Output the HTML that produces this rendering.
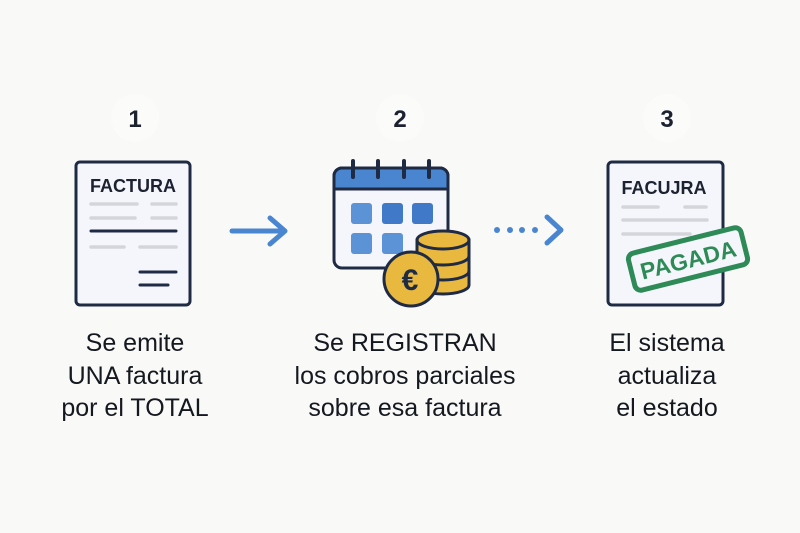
<!DOCTYPE html>
<html><head><meta charset="utf-8"><style>
html,body{margin:0;padding:0;background:#f9f9f7;}
svg{display:block;}
text{font-family:"Liberation Sans",sans-serif;}
</style></head><body>
<svg width="800" height="533" viewBox="0 0 800 533" xmlns="http://www.w3.org/2000/svg">
<rect width="800" height="533" fill="#f9f9f7"/>
<circle cx="135" cy="118" r="24" fill="#fbfbfa"/>
<circle cx="400" cy="118" r="24" fill="#fbfbfa"/>
<circle cx="667" cy="118" r="24" fill="#fbfbfa"/>
<g font-size="24" font-weight="bold" fill="#1c2230" text-anchor="middle">
<text x="135" y="127">1</text><text x="400" y="127">2</text><text x="667" y="127">3</text>
</g>
<rect x="76" y="162" width="114" height="143" rx="4" fill="#f5f6fb" stroke="#1f2a44" stroke-width="3"/>
<text x="133" y="192" font-size="18" font-weight="bold" fill="#1c2230" text-anchor="middle">FACTURA</text>
<g stroke-linecap="round" stroke-width="3.5">
<line x1="91" y1="204" x2="137" y2="204" stroke="#d3d5da"/><line x1="152" y1="204" x2="176" y2="204" stroke="#d3d5da"/>
<line x1="91" y1="218" x2="135" y2="218" stroke="#d3d5da"/><line x1="152" y1="218" x2="176" y2="218" stroke="#d3d5da"/>
<line x1="91" y1="231" x2="176" y2="231" stroke="#1f2a44" stroke-width="3"/>
<line x1="91" y1="247" x2="124" y2="247" stroke="#d3d5da"/><line x1="140" y1="247" x2="176" y2="247" stroke="#d3d5da"/>
<line x1="140" y1="272" x2="176" y2="272" stroke="#1f2a44" stroke-width="3"/>
<line x1="140" y1="285" x2="168" y2="285" stroke="#1f2a44" stroke-width="3"/>
</g>
<g stroke="#4a86d0" stroke-width="5" stroke-linecap="round" fill="none" stroke-linejoin="round">
<line x1="232" y1="231" x2="284" y2="231"/><polyline points="270,218 285,231 270,244"/>
</g>
<rect x="334" y="168" width="114" height="100" rx="8" fill="#f5f6fb" stroke="#1f2a44" stroke-width="3"/>
<path d="M334,189 V176 a8,8 0 0 1 8,-8 H440 a8,8 0 0 1 8,8 V189 Z" fill="#4a86d0" stroke="#1f2a44" stroke-width="3"/>
<g stroke="#1f2a44" stroke-width="4" stroke-linecap="round">
<line x1="353" y1="161" x2="353" y2="177"/><line x1="378" y1="161" x2="378" y2="177"/><line x1="404" y1="161" x2="404" y2="177"/><line x1="429" y1="161" x2="429" y2="177"/>
</g>
<g fill="#5b93d6">
<rect x="351" y="203" width="21" height="21" rx="3"/><rect x="382" y="203" width="21" height="21" rx="3" fill="#3f79c8"/><rect x="412" y="203" width="21" height="21" rx="3" fill="#3f79c8"/>
<rect x="351" y="233" width="21" height="21" rx="3"/><rect x="382" y="233" width="21" height="21" rx="3"/>
</g>
<g stroke="#1f2a44" stroke-width="3" fill="#e9b93f">
<path d="M417,240 V285 a26,9 0 0 0 52,0 V240 Z"/>
<ellipse cx="443" cy="240" rx="26" ry="9"/>
<path d="M417,256 a26,9 0 0 0 52,0" fill="none"/>
<path d="M417,271 a26,9 0 0 0 52,0" fill="none"/>
<circle cx="411" cy="279" r="27"/>
</g>
<text x="410" y="290" font-size="30" font-weight="bold" fill="#1f2a44" text-anchor="middle">€</text>
<g fill="#4a86d0"><circle cx="497" cy="230" r="3"/><circle cx="510" cy="230" r="3"/><circle cx="522" cy="230" r="3"/><circle cx="535" cy="230" r="3"/></g>
<polyline points="547,217 561,230 547,243" fill="none" stroke="#4a86d0" stroke-width="5" stroke-linecap="round" stroke-linejoin="round"/>
<rect x="608" y="162" width="115" height="143" rx="4" fill="#f5f6fb" stroke="#1f2a44" stroke-width="3"/>
<text x="664" y="194" font-size="18" font-weight="bold" fill="#1c2230" text-anchor="middle">FACUJRA</text>
<g stroke="#d3d5da" stroke-width="3.5" stroke-linecap="round">
<line x1="623" y1="207" x2="658" y2="207"/><line x1="685" y1="207" x2="706" y2="207"/>
<line x1="623" y1="220" x2="707" y2="220"/><line x1="623" y1="234" x2="690" y2="234"/>
</g>
<g transform="rotate(-14 688 259)">
<rect x="630" y="240" width="116" height="38" rx="6" fill="#f5f6fb" stroke="#2e8b57" stroke-width="5"/>
<text x="688" y="268" font-size="23" font-weight="bold" fill="#2e8b57" text-anchor="middle">PAGADA</text>
</g>
<g font-size="25" fill="#14181f" text-anchor="middle">
<text x="135" y="351">Se emite</text><text x="135" y="384">UNA factura</text><text x="135" y="416">por el TOTAL</text>
<text x="405" y="351">Se REGISTRAN</text><text x="405" y="384">los cobros parciales</text><text x="405" y="416">sobre esa factura</text>
<text x="667" y="351">El sistema</text><text x="667" y="384">actualiza</text><text x="667" y="416">el estado</text>
</g>
</svg>
</body></html>
